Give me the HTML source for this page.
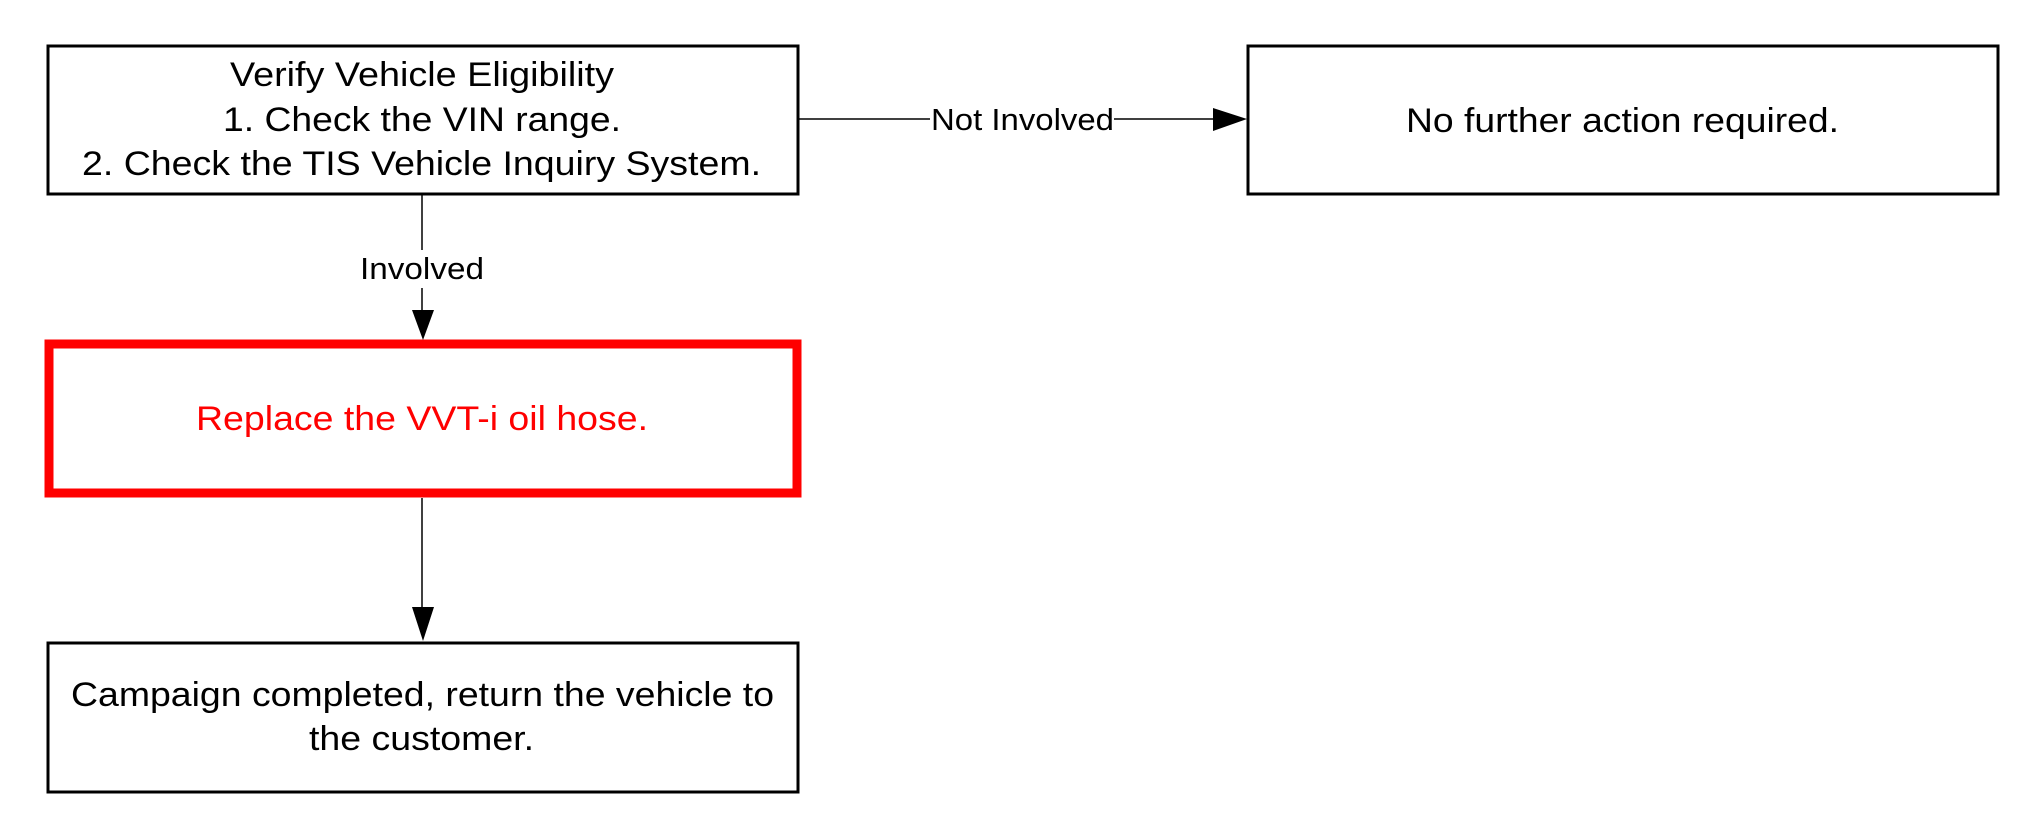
<!DOCTYPE html>
<html><head><meta charset="utf-8"><style>html,body{margin:0;padding:0;background:#fff;}svg{display:block}</style></head>
<body>
<svg width="2018" height="824" viewBox="0 0 2018 824" xmlns="http://www.w3.org/2000/svg" font-family="Liberation Sans, Arial, sans-serif">
<rect x="48" y="46" width="750" height="148" fill="#fff" stroke="#000" stroke-width="3"/>
<rect x="1248" y="46" width="750" height="148" fill="#fff" stroke="#000" stroke-width="3"/>
<rect x="49" y="344" width="748" height="149" fill="#fff" stroke="#ff0000" stroke-width="9"/>
<rect x="48" y="643" width="750" height="149" fill="#fff" stroke="#000" stroke-width="3"/>
<!-- connectors -->
<line x1="422" y1="195" x2="422" y2="250" stroke="#000" stroke-width="1.5"/>
<line x1="422" y1="288" x2="422" y2="312" stroke="#000" stroke-width="1.5"/>
<polygon points="412,310 434,310 423,340" fill="#000"/>
<line x1="422" y1="498" x2="422" y2="610" stroke="#000" stroke-width="1.5"/>
<polygon points="412,607 434,607 423,641" fill="#000"/>
<line x1="799" y1="119" x2="930" y2="119" stroke="#000" stroke-width="1.5"/>
<line x1="1114" y1="119" x2="1215" y2="119" stroke="#000" stroke-width="1.5"/>
<polygon points="1213,108 1213,131 1247,119" fill="#000"/>
<!-- text -->
<g font-size="34" fill="#000">
<text x="230" y="86" textLength="384" lengthAdjust="spacingAndGlyphs">Verify Vehicle Eligibility</text>
<text x="223" y="131" textLength="398" lengthAdjust="spacingAndGlyphs">1. Check the VIN range.</text>
<text x="82" y="175" textLength="679" lengthAdjust="spacingAndGlyphs">2. Check the TIS Vehicle Inquiry System.</text>
<text x="1406" y="132" textLength="433" lengthAdjust="spacingAndGlyphs">No further action required.</text>
<text x="196" y="430" fill="#ff0000" textLength="452" lengthAdjust="spacingAndGlyphs">Replace the VVT-i oil hose.</text>
<text x="71" y="706" textLength="703" lengthAdjust="spacingAndGlyphs">Campaign completed, return the vehicle to</text>
<text x="309" y="750" textLength="225" lengthAdjust="spacingAndGlyphs">the customer.</text>
</g>
<g font-size="31" fill="#000">
<text x="360" y="279" textLength="124" lengthAdjust="spacingAndGlyphs">Involved</text>
<text x="931" y="130" textLength="183" lengthAdjust="spacingAndGlyphs">Not Involved</text>
</g>
</svg>
</body></html>
